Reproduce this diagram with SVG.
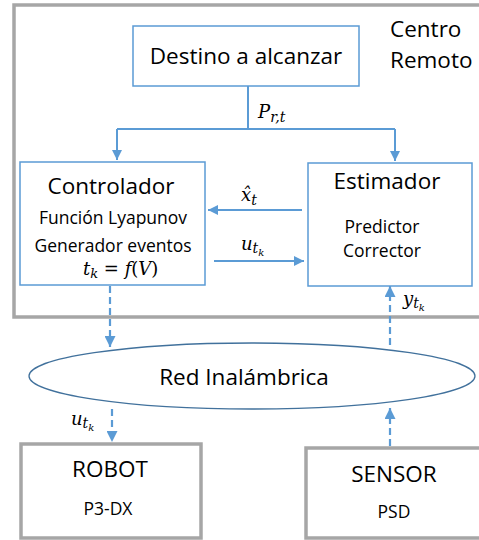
<svg xmlns="http://www.w3.org/2000/svg" width="479" height="540" viewBox="0 0 479 540">
<defs>
<style>
.box{fill:#fff;stroke:#5b9bd5;stroke-width:1.5}
.gbox{fill:#fff;stroke:#a6a6a6;stroke-width:3.5}
.ln{fill:none;stroke:#5b9bd5;stroke-width:2}
.dash{fill:none;stroke:#5b9bd5;stroke-width:2.2;stroke-dasharray:7 4}
.t{font-family:"Open Sans","Liberation Sans",sans-serif;fill:#000}
.m{font-family:"DejaVu Serif","Liberation Serif",serif;font-style:italic;fill:#000}
</style>
<marker id="ah" viewBox="0 0 10 10" refX="10" refY="5" markerWidth="5" markerHeight="5" orient="auto" markerUnits="strokeWidth">
<path d="M0,0 L10,5 L0,10 z" fill="#5b9bd5"/>
</marker>
</defs>
<rect id="centro-remoto" x="14" y="5" width="470" height="312" fill="#fff" stroke="#a6a6a6" stroke-width="3.5"/>
<text class="t" x="390" y="37" font-size="22.5">Centro</text>
<text class="t" x="390" y="68" font-size="22.5">Remoto</text>

<g id="connectors">
<path class="ln" d="M248,86 V129"/>
<path class="ln" d="M117,129 H395"/>
<path class="ln" d="M117,129 V160" marker-end="url(#ah)"/>
<path class="ln" d="M395,129 V161" marker-end="url(#ah)"/>
<path class="ln" d="M302,210 H208" marker-end="url(#ah)"/>
<path class="ln" d="M214,261 H304" marker-end="url(#ah)"/>
<path class="dash" d="M110,286 V347" marker-end="url(#ah)"/>
<path class="dash" d="M112,409 V442" marker-end="url(#ah)"/>
<path class="dash" d="M390,446 V408" marker-end="url(#ah)"/>
<path class="dash" d="M390,345 V286" marker-end="url(#ah)"/>
<text class="m" x="258" y="118" font-size="18">P<tspan font-size="14" dy="4">r,t</tspan></text>
<text class="m" x="241" y="201" font-size="18">x̂<tspan font-size="14" dy="4">t</tspan></text>
<text class="m" x="241" y="250" font-size="18">u<tspan font-size="14" dy="3">t</tspan><tspan font-size="10" dy="3">k</tspan></text>
<text class="m" x="403" y="305" font-size="18">y<tspan font-size="14" dy="3">t</tspan><tspan font-size="10" dy="3">k</tspan></text>
<text class="m" x="71" y="425" font-size="18">u<tspan font-size="14" dy="3">t</tspan><tspan font-size="10" dy="3">k</tspan></text>
</g>

<g id="destino">
<rect class="box" x="133" y="26" width="226" height="60"/>
<text class="t" x="246" y="64" font-size="22.5" text-anchor="middle">Destino a alcanzar</text>
</g>

<g id="controlador">
<rect class="box" x="20" y="162" width="185" height="123"/>
<text class="t" x="111" y="194" font-size="22.5" text-anchor="middle">Controlador</text>
<text class="t" x="113" y="224" font-size="17.5" text-anchor="middle">Función Lyapunov</text>
<text class="t" x="113" y="252" font-size="17.5" text-anchor="middle">Generador eventos</text>
<text class="m" x="83" y="275" font-size="18">t<tspan font-size="13" dy="3">k</tspan><tspan dy="-3" font-style="normal"> = </tspan>f<tspan font-style="normal">(</tspan>V<tspan font-style="normal">)</tspan></text>
</g>

<g id="estimador">
<rect class="box" x="308" y="163" width="164" height="123"/>
<text class="t" x="387" y="189" font-size="22.5" text-anchor="middle">Estimador</text>
<text class="t" x="382" y="233" font-size="17.5" text-anchor="middle">Predictor</text>
<text class="t" x="382" y="257" font-size="17.5" text-anchor="middle">Corrector</text>
</g>

<g id="red">
<ellipse cx="252" cy="376" rx="223" ry="33" fill="#fff" stroke="#41719c" stroke-width="1.3"/>
<text class="t" x="244" y="385" font-size="22.5" text-anchor="middle">Red Inalámbrica</text>
</g>

<g id="robot">
<rect class="gbox" x="21" y="444" width="180" height="94"/>
<text class="t" x="110" y="477" font-size="22.5" text-anchor="middle">ROBOT</text>
<text class="t" x="108" y="515" font-size="17.5" text-anchor="middle">P3-DX</text>
</g>

<g id="sensor">
<rect class="gbox" x="306" y="448" width="180" height="90"/>
<text class="t" x="394" y="482" font-size="22.5" text-anchor="middle">SENSOR</text>
<text class="t" x="394" y="518" font-size="17.5" text-anchor="middle">PSD</text>
</g>
</svg>
